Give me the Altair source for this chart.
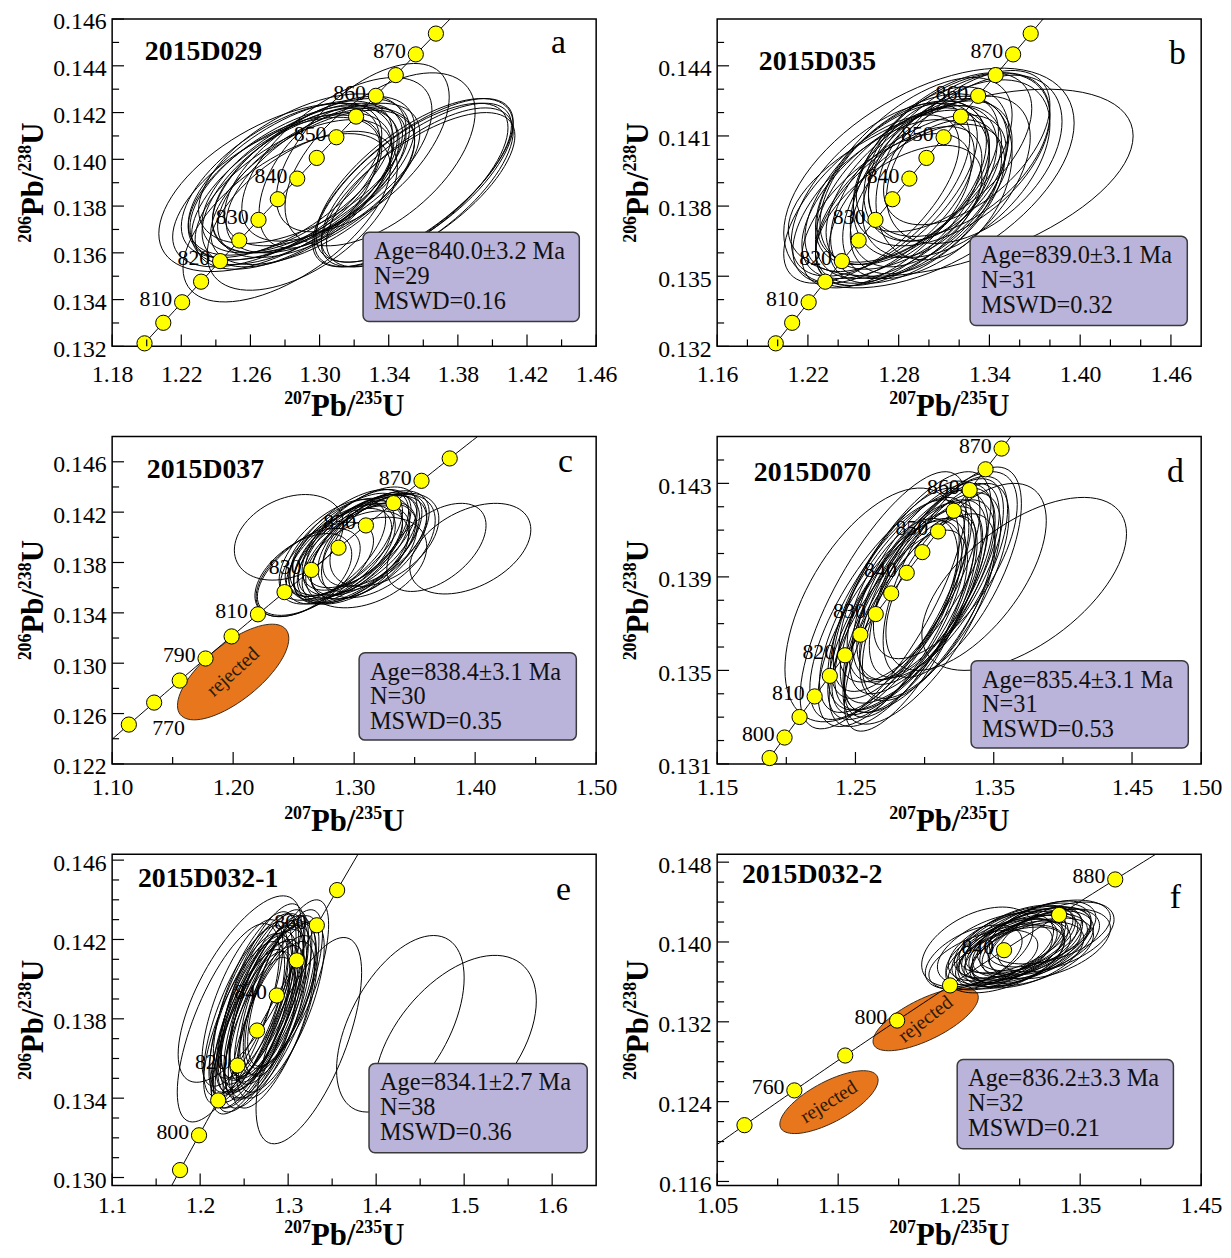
import math
import altair as alt
import pandas as pd

FONT = "Liberation Serif"
L235 = 9.8485e-4   # decay constant, 1/Ma
L238 = 1.55125e-4
XTITLE = [("207", True), ("Pb/", False), ("235", True), ("U", False)]
YTITLE = [("206", True), ("Pb/", False), ("238", True), ("U", False)]
ORANGE = "#E8761C"
BOXFILL = "#BAB3DA"

# ---------------- panel a ----------------
A_NAME = "2015D029"
A_STATS = ["Age=840.0±3.2 Ma", "N=29", "MSWD=0.16"]
A_XDOM = [1.18, 1.46]
A_YDOM = [0.132, 0.146]
A_XLAB = [1.18, 1.22, 1.26, 1.30, 1.34, 1.38, 1.42, 1.46]
A_XMIN = [1.20, 1.24, 1.28, 1.32, 1.36, 1.40, 1.44]
A_YLAB = [0.132, 0.134, 0.136, 0.138, 0.140, 0.142, 0.144, 0.146]
A_YMIN = [0.133, 0.135, 0.137, 0.139, 0.141, 0.143, 0.145]
A_DOTS = [800, 805, 810, 815, 820, 825, 830, 835, 840, 845, 850, 855, 860, 865, 870, 875]
A_LABS = [810, 820, 830, 840, 850, 860, 870]
A_CX = [1.285, 1.290, 1.280, 1.295, 1.300, 1.275, 1.288, 1.292, 1.283, 1.298, 1.287, 1.278, 1.302, 1.290, 1.285,
        1.296, 1.300, 1.275, 1.281, 1.290, 1.325, 1.335, 1.310, 1.353, 1.356, 1.358, 1.355, 1.357, 1.354]
A_CY = [0.1390, 0.1392, 0.1388, 0.1393, 0.1395, 0.1386, 0.1389, 0.1391, 0.1392, 0.1390, 0.1387, 0.1391, 0.1392,
        0.1396, 0.1385, 0.1388, 0.1392, 0.1388, 0.1375, 0.1378, 0.1405, 0.1400, 0.1400, 0.1389, 0.1390, 0.1388,
        0.1391, 0.1387, 0.1390]
A_SX = [0.060, 0.058, 0.056, 0.057, 0.055, 0.060, 0.062, 0.054, 0.059, 0.057, 0.055, 0.058, 0.056, 0.060, 0.057,
        0.059, 0.035, 0.068, 0.060, 0.055, 0.050, 0.055, 0.055, 0.056, 0.055, 0.054, 0.057, 0.056, 0.058]
A_SY = [0.0033, 0.0032, 0.0031, 0.0033, 0.0032, 0.0032, 0.0034, 0.0031, 0.0033, 0.0032, 0.0033, 0.0033, 0.0032,
        0.0032, 0.0032, 0.0033, 0.0030, 0.0036, 0.0036, 0.0034, 0.0036, 0.0037, 0.0035, 0.0035, 0.0034, 0.0034,
        0.0035, 0.0033, 0.0036]
A_RHO = [0.58, 0.60, 0.55, 0.60, 0.58, 0.60, 0.62, 0.55, 0.60, 0.58, 0.55, 0.60, 0.60, 0.55, 0.60, 0.60, 0.50,
         0.55, 0.60, 0.55, 0.60, 0.55, 0.60, 0.70, 0.72, 0.70, 0.68, 0.70, 0.72]

# ---------------- panel b ----------------
B_NAME = "2015D035"
B_STATS = ["Age=839.0±3.1 Ma", "N=31", "MSWD=0.32"]
B_XDOM = [1.16, 1.48]
B_YDOM = [0.132, 0.146]
B_XLAB = [1.16, 1.22, 1.28, 1.34, 1.40, 1.46]
B_XMIN = [1.18, 1.20, 1.24, 1.26, 1.30, 1.32, 1.36, 1.38, 1.42, 1.44]
B_YLAB = [0.132, 0.135, 0.138, 0.141, 0.144]
B_YMIN = [0.133, 0.134, 0.136, 0.137, 0.139, 0.140, 0.142, 0.143, 0.145]
B_DOTS = [800, 805, 810, 815, 820, 825, 830, 835, 840, 845, 850, 855, 860, 865, 870, 875]
B_LABS = [810, 820, 830, 840, 850, 860, 870]
B_CX = [1.300, 1.321, 1.262, 1.270, 1.278, 1.285, 1.280, 1.290, 1.275, 1.288, 1.295, 1.283, 1.272, 1.292, 1.300,
        1.268, 1.286, 1.280, 1.300, 1.295, 1.310, 1.305, 1.320, 1.315, 1.325, 1.318, 1.310, 1.330, 1.298, 1.290, 1.305]
B_CY = [0.1392, 0.1390, 0.1383, 0.1382, 0.1385, 0.1386, 0.1380, 0.1388, 0.1388, 0.1383, 0.1387, 0.1390, 0.1378,
        0.1381, 0.1390, 0.1387, 0.1392, 0.1376, 0.1395, 0.1390, 0.1392, 0.1398, 0.1402, 0.1400, 0.1405, 0.1396,
        0.1403, 0.1400, 0.1384, 0.1395, 0.1388]
B_SX = [0.096, 0.114, 0.058, 0.060, 0.062, 0.060, 0.055, 0.058, 0.057, 0.063, 0.060, 0.055, 0.056, 0.058, 0.052,
        0.059, 0.060, 0.055, 0.040, 0.045, 0.045, 0.048, 0.060, 0.065, 0.055, 0.062, 0.058, 0.058, 0.050, 0.065, 0.062]
B_SY = [0.0047, 0.0040, 0.0036, 0.0035, 0.0036, 0.0037, 0.0034, 0.0035, 0.0036, 0.0036, 0.0038, 0.0035, 0.0033,
        0.0034, 0.0036, 0.0037, 0.0036, 0.0030, 0.0030, 0.0032, 0.0035, 0.0033, 0.0035, 0.0037, 0.0033, 0.0038,
        0.0034, 0.0036, 0.0033, 0.0040, 0.0039]
B_RHO = [0.50, 0.50, 0.65, 0.60, 0.60, 0.55, 0.60, 0.55, 0.60, 0.60, 0.55, 0.50, 0.60, 0.55, 0.50, 0.60, 0.55,
         0.55, 0.30, 0.35, 0.30, 0.40, 0.50, 0.50, 0.55, 0.50, 0.55, 0.45, 0.50, 0.60, 0.55]

# ---------------- panel c ----------------
C_NAME = "2015D037"
C_STATS = ["Age=838.4±3.1 Ma", "N=30", "MSWD=0.35"]
C_XDOM = [1.10, 1.50]
C_YDOM = [0.122, 0.148]
C_XLAB = [1.10, 1.20, 1.30, 1.40, 1.50]
C_XMIN = [1.15, 1.25, 1.35, 1.45]
C_YLAB = [0.122, 0.126, 0.130, 0.134, 0.138, 0.142, 0.146]
C_YMIN = [0.124, 0.128, 0.132, 0.136, 0.140, 0.144]
C_DOTS = [760, 770, 780, 790, 800, 810, 820, 830, 840, 850, 860, 870, 880]
C_LABS = [790, 810, 830, 850, 870]
C_LABS_BELOW = [770]
C_CX = [1.246, 1.396, 1.368, 1.262, 1.268, 1.258, 1.300, 1.295, 1.305, 1.290, 1.310, 1.298, 1.302, 1.293, 1.308,
        1.315, 1.285, 1.296, 1.304, 1.312, 1.288, 1.299, 1.318, 1.306, 1.292, 1.320, 1.310, 1.325, 1.282, 1.302]
C_CY = [0.1400, 0.1391, 0.1392, 0.1372, 0.1375, 0.1370, 0.1392, 0.1390, 0.1394, 0.1388, 0.1395, 0.1386, 0.1398,
        0.1394, 0.1389, 0.1396, 0.1385, 0.1396, 0.1388, 0.1392, 0.1392, 0.1384, 0.1399, 0.1400, 0.1387, 0.1393,
        0.1380, 0.1398, 0.1390, 0.1391]
C_SX = [0.045, 0.050, 0.041, 0.043, 0.048, 0.040, 0.046, 0.045, 0.047, 0.044, 0.046, 0.048, 0.045, 0.047, 0.044,
        0.045, 0.046, 0.049, 0.047, 0.048, 0.045, 0.046, 0.044, 0.046, 0.048, 0.047, 0.050, 0.045, 0.044, 0.052]
C_SY = [0.0034, 0.0036, 0.0035, 0.0035, 0.0037, 0.0033, 0.0040, 0.0039, 0.0040, 0.0038, 0.0041, 0.0039, 0.0040,
        0.0041, 0.0038, 0.0039, 0.0038, 0.0042, 0.0040, 0.0041, 0.0039, 0.0037, 0.0038, 0.0040, 0.0040, 0.0041,
        0.0036, 0.0037, 0.0040, 0.0043]
C_RHO = [0.30, 0.42, 0.50, 0.55, 0.60, 0.50, 0.60, 0.60, 0.60, 0.55, 0.60, 0.55, 0.60, 0.65, 0.50, 0.55, 0.60,
         0.60, 0.60, 0.55, 0.60, 0.50, 0.55, 0.60, 0.60, 0.50, 0.35, 0.45, 0.60, 0.60]
C_REJ = ([1.200], [0.1293], [0.046], [0.0038], [0.70])
C_REJ_ANGLE = [318]

# ---------------- panel d ----------------
D_NAME = "2015D070"
D_STATS = ["Age=835.4±3.1 Ma", "N=31", "MSWD=0.53"]
D_XDOM = [1.15, 1.50]
D_YDOM = [0.131, 0.145]
D_XLAB = [1.15, 1.25, 1.35, 1.45, 1.50]
D_XMIN = [1.20, 1.30, 1.40]
D_YLAB = [0.131, 0.135, 0.139, 0.143]
D_YMIN = [0.132, 0.133, 0.134, 0.136, 0.137, 0.138, 0.140, 0.141, 0.142, 0.144]
D_DOTS = [795, 800, 805, 810, 815, 820, 825, 830, 835, 840, 845, 850, 855, 860, 865, 870]
D_LABS = [800, 810, 820, 830, 840, 850, 860, 870]
D_CX = [1.372, 1.330, 1.262, 1.270, 1.290, 1.320, 1.290, 1.285, 1.295, 1.280, 1.300, 1.288, 1.292, 1.278, 1.305,
        1.296, 1.283, 1.298, 1.275, 1.310, 1.287, 1.302, 1.281, 1.293, 1.308, 1.273, 1.289, 1.299, 1.315, 1.284, 1.296]
D_CY = [0.1387, 0.1390, 0.1378, 0.1380, 0.1370, 0.1392, 0.1378, 0.1375, 0.1382, 0.1372, 0.1385, 0.1380, 0.1376,
        0.1378, 0.1388, 0.1372, 0.1383, 0.1379, 0.1370, 0.1390, 0.1386, 0.1380, 0.1368, 0.1390, 0.1384, 0.1376,
        0.1373, 0.1388, 0.1395, 0.1380, 0.1384]
D_SX = [0.074, 0.058, 0.063, 0.060, 0.048, 0.050, 0.055, 0.052, 0.056, 0.050, 0.054, 0.058, 0.050, 0.054, 0.052,
        0.055, 0.051, 0.057, 0.052, 0.050, 0.053, 0.049, 0.050, 0.055, 0.053, 0.056, 0.047, 0.051, 0.052, 0.040, 0.045]
D_SY = [0.0037, 0.0040, 0.0050, 0.0055, 0.0046, 0.0045, 0.0045, 0.0044, 0.0046, 0.0043, 0.0045, 0.0047, 0.0044,
        0.0046, 0.0044, 0.0045, 0.0045, 0.0047, 0.0044, 0.0043, 0.0045, 0.0043, 0.0042, 0.0045, 0.0046, 0.0047,
        0.0043, 0.0042, 0.0040, 0.0035, 0.0038]
D_RHO = [0.58, 0.60, 0.55, 0.75, 0.75, 0.65, 0.70, 0.72, 0.70, 0.70, 0.72, 0.68, 0.70, 0.72, 0.70, 0.70, 0.70,
         0.70, 0.70, 0.68, 0.72, 0.65, 0.70, 0.70, 0.70, 0.72, 0.72, 0.65, 0.65, 0.55, 0.60]

# ---------------- panel e ----------------
E_NAME = "2015D032-1"
E_STATS = ["Age=834.1±2.7 Ma", "N=38", "MSWD=0.36"]
E_XDOM = [1.10, 1.65]
E_YDOM = [0.1296, 0.1463]
E_XLAB = [1.1, 1.2, 1.3, 1.4, 1.5, 1.6]
E_XMIN = [1.15, 1.25, 1.35, 1.45, 1.55]
E_YLAB = [0.130, 0.134, 0.138, 0.142, 0.146]
E_YMIN = [0.131, 0.132, 0.133, 0.135, 0.136, 0.137, 0.139, 0.140, 0.141, 0.143, 0.144, 0.145]
E_DOTS = [790, 800, 810, 820, 830, 840, 850, 860, 870]
E_LABS = [800, 820, 840, 860]
E_CX = [1.245, 1.3235, 1.4275, 1.490, 1.232, 1.270, 1.265, 1.275, 1.260, 1.280, 1.268, 1.272, 1.258, 1.285, 1.263,
        1.277, 1.255, 1.290, 1.266, 1.273, 1.282, 1.262, 1.250, 1.278, 1.269, 1.287, 1.257, 1.295, 1.264, 1.276,
        1.252, 1.283, 1.271, 1.260, 1.292, 1.248, 1.279, 1.300]
E_CY = [0.1395, 0.1369, 0.13775, 0.1367, 0.1378, 0.1385, 0.1383, 0.1387, 0.1380, 0.1390, 0.1388, 0.1380, 0.1386,
        0.1388, 0.1377, 0.1383, 0.1382, 0.1392, 0.1390, 0.1376, 0.1384, 0.1392, 0.1378, 0.1393, 0.1379, 0.1381,
        0.1375, 0.1395, 0.1386, 0.1389, 0.1384, 0.1377, 0.1394, 0.1373, 0.1386, 0.1388, 0.1381, 0.1398]
E_SX = [0.070, 0.060, 0.0725, 0.092, 0.058, 0.047, 0.045, 0.048, 0.046, 0.047, 0.050, 0.044, 0.047, 0.046, 0.048,
        0.049, 0.045, 0.045, 0.046, 0.047, 0.050, 0.047, 0.046, 0.045, 0.052, 0.046, 0.045, 0.044, 0.040, 0.042,
        0.048, 0.047, 0.048, 0.047, 0.049, 0.046, 0.030, 0.046]
E_SY = [0.0047, 0.0052, 0.00445, 0.0045, 0.0050, 0.0042, 0.0041, 0.0043, 0.0042, 0.0042, 0.0045, 0.0040, 0.0043,
        0.0041, 0.0042, 0.0044, 0.0041, 0.0040, 0.0043, 0.0041, 0.0044, 0.0042, 0.0041, 0.0042, 0.0046, 0.0041,
        0.0040, 0.0040, 0.0037, 0.0039, 0.0043, 0.0042, 0.0044, 0.0041, 0.0043, 0.0042, 0.0030, 0.0042]
E_RHO = [0.70, 0.66, 0.52, 0.49, 0.70, 0.70, 0.70, 0.72, 0.70, 0.70, 0.72, 0.68, 0.70, 0.70, 0.72, 0.70, 0.70,
         0.68, 0.72, 0.70, 0.70, 0.70, 0.72, 0.70, 0.72, 0.68, 0.70, 0.70, 0.65, 0.68, 0.72, 0.70, 0.70, 0.72,
         0.70, 0.70, 0.50, 0.70]

# ---------------- panel f ----------------
F_NAME = "2015D032-2"
F_STATS = ["Age=836.2±3.3 Ma", "N=32", "MSWD=0.21"]
F_XDOM = [1.05, 1.45]
F_YDOM = [0.1156, 0.1488]
F_XLAB = [1.05, 1.15, 1.25, 1.35, 1.45]
F_XMIN = [1.10, 1.20, 1.30, 1.40]
F_YLAB = [0.116, 0.124, 0.132, 0.140, 0.148]
F_YMIN = [0.118, 0.120, 0.122, 0.126, 0.128, 0.130, 0.134, 0.136, 0.138, 0.142, 0.144, 0.146]
F_DOTS = [740, 760, 780, 800, 820, 840, 860, 880]
F_LABS = [760, 800, 840, 880]
F_CX = [1.265, 1.270, 1.262, 1.330, 1.325, 1.300, 1.295, 1.305, 1.290, 1.310, 1.298, 1.303, 1.288, 1.315, 1.292,
        1.308, 1.296, 1.285, 1.312, 1.300, 1.320, 1.283, 1.306, 1.293, 1.318, 1.302, 1.280, 1.311, 1.297, 1.325,
        1.289, 1.307]
F_CY = [0.1395, 0.1382, 0.1385, 0.1405, 0.1410, 0.1396, 0.1393, 0.1398, 0.1390, 0.1400, 0.1388, 0.1402, 0.1396,
        0.1397, 0.1385, 0.1393, 0.1400, 0.1390, 0.1405, 0.1391, 0.1400, 0.1385, 0.1387, 0.1398, 0.1408, 0.1395,
        0.1393, 0.1390, 0.1403, 0.1398, 0.1382, 0.1397]
F_SX = [0.046, 0.045, 0.040, 0.048, 0.050, 0.048, 0.045, 0.047, 0.046, 0.049, 0.044, 0.048, 0.047, 0.046, 0.045,
        0.048, 0.050, 0.046, 0.047, 0.051, 0.046, 0.044, 0.047, 0.045, 0.045, 0.035, 0.048, 0.050, 0.047, 0.050,
        0.048, 0.052]
F_SY = [0.0040, 0.0030, 0.0032, 0.0035, 0.0032, 0.0035, 0.0034, 0.0036, 0.0033, 0.0035, 0.0033, 0.0034, 0.0035,
        0.0034, 0.0032, 0.0035, 0.0036, 0.0034, 0.0034, 0.0036, 0.0033, 0.0033, 0.0033, 0.0035, 0.0033, 0.0028,
        0.0036, 0.0034, 0.0034, 0.0035, 0.0033, 0.0038]
F_RHO = [0.45, 0.50, 0.50, 0.50, 0.45, 0.55, 0.55, 0.55, 0.50, 0.55, 0.50, 0.55, 0.55, 0.50, 0.50, 0.55, 0.55,
         0.55, 0.50, 0.55, 0.50, 0.55, 0.50, 0.55, 0.50, 0.45, 0.50, 0.50, 0.55, 0.45, 0.55, 0.55]
F_REJ = ([1.2223, 1.1424], [0.13225, 0.12395], [0.0435, 0.0406], [0.00315, 0.00315], [0.70, 0.70])
F_REJ_ANGLE = [322, 328]

W = 488
MAIN_FS, SUP_FS, SUP_RAISE = 31, 18, 12
# advance widths (em) of Liberation Serif Bold glyphs used in the axis titles
ADV = {"P": 0.611, "b": 0.556, "/": 0.278, "U": 0.722}


def conc_xy(t):
    return math.exp(L235 * t) - 1, math.exp(L238 * t) - 1


def ellipse_outline(cx, cy, sx, sy, rho, n=80):
    rows = []
    for k in range(len(cx)):
        s = math.sqrt(1 - rho[k] ** 2)
        for i in range(n + 1):
            t = 2 * math.pi * i / n
            rows.append({"id": k, "i": i, "x": cx[k] + sx[k] * math.cos(t),
                         "y": cy[k] + sy[k] * (rho[k] * math.cos(t) + s * math.sin(t))})
    return pd.DataFrame(rows)


def ellipse_band(cx, cy, sx, sy, rho, n=60):
    rows = []
    for k in range(len(cx)):
        s = math.sqrt(1 - rho[k] ** 2)
        for i in range(n + 1):
            u = -math.cos(math.pi * i / n)
            w = math.sqrt(max(0.0, 1 - u * u))
            rows.append({"id": k, "x": cx[k] + sx[k] * u,
                         "y": cy[k] + sy[k] * (rho[k] * u - s * w),
                         "y2": cy[k] + sy[k] * (rho[k] * u + s * w)})
    return pd.DataFrame(rows)


def piece_width(txt, sup):
    if sup:
        return 0.5 * SUP_FS * len(txt)
    return sum(ADV.get(c, 0.5) for c in txt) * MAIN_FS


def title_layers(pieces, vertical, center, base):
    total = sum(piece_width(t, s) for t, s in pieces)
    out = []
    off = 0.0
    for txt, sup in pieces:
        fs = SUP_FS if sup else MAIN_FS
        raise_ = SUP_RAISE if sup else 0
        if vertical:
            enc = dict(x=alt.value(base - raise_), y=alt.value(center + total / 2 - off))
            mk = dict(angle=270)
        else:
            enc = dict(x=alt.value(center - total / 2 + off), y=alt.value(base - raise_))
            mk = {}
        out.append(alt.Chart(pd.DataFrame({"t": [txt]})).mark_text(
            align="left", baseline="alphabetic", font=FONT, fontWeight="bold", fontSize=fs, color="black",
            **mk).encode(text="t:N", **enc))
        off += piece_width(txt, sup)
    return out


def make_panel(p):
    H = p["H"]
    xs = alt.Scale(domain=p["xdom"], nice=False, zero=False)
    ys = alt.Scale(domain=p["ydom"], nice=False, zero=False)
    xax = alt.Axis(values=p["xlab"], format=p["xfmt"], title=None, ticks=False, domain=False, grid=False,
                   labelFlush=False, labelPadding=p["xlp"])
    yax = alt.Axis(values=p["ylab"], format=".3f", title=None, ticks=False, domain=False, grid=False,
                   labelFlush=False, labelPadding=6, labelOffset=3)

    def X():
        return alt.X("x:Q", scale=xs, axis=xax)

    def Y():
        return alt.Y("y:Q", scale=ys, axis=yax)

    layers = []
    # rejected (filled orange) ellipses
    if p.get("rej"):
        band = ellipse_band(*p["rej"])
        layers.append(alt.Chart(band).mark_area(color=ORANGE, opacity=1, clip=True).encode(
            x=X(), y=Y(), y2="y2:Q", detail="id:N"))
        outl = ellipse_outline(*p["rej"])
        layers.append(alt.Chart(outl).mark_line(color="#3b2a18", strokeWidth=1, clip=True).encode(
            x=X(), y=Y(), detail="id:N", order="i:Q"))
    # concordia curve
    ages = list(range(700, 962, 2))
    cdf = pd.DataFrame({"x": [conc_xy(t)[0] for t in ages], "y": [conc_xy(t)[1] for t in ages]})
    layers.append(alt.Chart(cdf).mark_line(color="black", strokeWidth=1, clip=True).encode(
        x=X(), y=Y(), order="x:Q"))
    # age labels
    ldf = pd.DataFrame({"x": [conc_xy(t)[0] for t in p["labs"]], "y": [conc_xy(t)[1] for t in p["labs"]],
                        "t": [str(t) for t in p["labs"]]})
    layers.append(alt.Chart(ldf).mark_text(align="right", baseline="middle", dx=-10, dy=-3, font=FONT,
                                           fontSize=22, color="black").encode(x=X(), y=Y(), text="t:N"))
    if p.get("labs_below"):
        bdf = pd.DataFrame({"x": [conc_xy(t)[0] for t in p["labs_below"]],
                            "y": [conc_xy(t)[1] for t in p["labs_below"]],
                            "t": [str(t) for t in p["labs_below"]]})
        layers.append(alt.Chart(bdf).mark_text(align="left", baseline="middle", dx=-2, dy=26, font=FONT,
                                               fontSize=22, color="black").encode(x=X(), y=Y(), text="t:N"))
    # data ellipses
    edf = ellipse_outline(*p["ell"])
    layers.append(alt.Chart(edf).mark_line(color="black", strokeWidth=1, clip=True).encode(
        x=X(), y=Y(), detail="id:N", order="i:Q"))
    # concordia age dots
    ddf = pd.DataFrame({"x": [conc_xy(t)[0] for t in p["dots"]], "y": [conc_xy(t)[1] for t in p["dots"]]})
    layers.append(alt.Chart(ddf).mark_circle(size=235, color="#FFFF00", opacity=1, stroke="black",
                                             strokeWidth=1).encode(x=X(), y=Y()))
    # "rejected" labels
    if p.get("rej"):
        cx, cy = p["rej"][0], p["rej"][1]
        for k in range(len(cx)):
            rdf = pd.DataFrame({"x": [cx[k]], "y": [cy[k]], "t": ["rejected"]})
            layers.append(alt.Chart(rdf).mark_text(align="center", baseline="middle", font=FONT, fontSize=20,
                                                   angle=p["rej_angle"][k], color="#2a1a08").encode(
                x=X(), y=Y(), text="t:N"))
    # ticks (inward)
    layers.append(alt.Chart(pd.DataFrame({"x": p["xlab"]})).mark_rule(color="black", strokeWidth=1.2).encode(
        x=X(), y=alt.value(H), y2=alt.value(H - 12)))
    layers.append(alt.Chart(pd.DataFrame({"x": p["xmin"]})).mark_rule(color="black", strokeWidth=1.2).encode(
        x=X(), y=alt.value(H), y2=alt.value(H - 7)))
    layers.append(alt.Chart(pd.DataFrame({"y": p["ylab"]})).mark_rule(color="black", strokeWidth=1.2).encode(
        y=Y(), x=alt.value(0), x2=alt.value(12)))
    layers.append(alt.Chart(pd.DataFrame({"y": p["ymin"]})).mark_rule(color="black", strokeWidth=1.2).encode(
        y=Y(), x=alt.value(0), x2=alt.value(7)))
    # statistics box
    bl, bt, br, bb = p["box"]
    layers.append(alt.Chart(pd.DataFrame({"k": [0]})).mark_rect(
        fill=BOXFILL, stroke="#3a3a3a", strokeWidth=1.5, cornerRadius=6).encode(
        x=alt.value(bl), x2=alt.value(br), y=alt.value(bt), y2=alt.value(bb)))
    for j, line in enumerate(p["stats"]):
        layers.append(alt.Chart(pd.DataFrame({"t": [line]})).mark_text(
            align="left", baseline="middle", font=FONT, fontSize=24.5, color="#111").encode(
            x=alt.value(bl + 11), y=alt.value(bt + 20 + 25 * j), text="t:N"))
    # sample name & panel letter
    nx, ny = p["name_xy"]
    layers.append(alt.Chart(pd.DataFrame({"t": [p["name"]]})).mark_text(
        align="left", baseline="middle", font=FONT, fontSize=28, fontWeight="bold", color="black").encode(
        x=alt.value(nx), y=alt.value(ny), text="t:N"))
    lx, ly = p["letter_xy"]
    layers.append(alt.Chart(pd.DataFrame({"t": [p["letter"]]})).mark_text(
        align="center", baseline="middle", font=FONT, fontSize=34, color="black").encode(
        x=alt.value(lx), y=alt.value(ly), text="t:N"))
    # axis titles with superscripts
    layers += title_layers(XTITLE, False, W / 2 - 10, H + p["xtb"])
    layers += title_layers(YTITLE, True, H / 2, -70)
    return alt.layer(*layers).properties(width=W, height=H)


PANELS = [
    dict(letter="a", name=A_NAME, stats=A_STATS, xdom=A_XDOM, ydom=A_YDOM, xlab=A_XLAB, xmin=A_XMIN,
         ylab=A_YLAB, ymin=A_YMIN, xfmt=".2f", dots=A_DOTS, labs=A_LABS,
         ell=(A_CX, A_CY, A_SX, A_SY, A_RHO), H=330, xlp=16, xtb=70,
         name_xy=(33, 33), letter_xy=(450, 24), box=(253, 215, 471, 305)),
    dict(letter="b", name=B_NAME, stats=B_STATS, xdom=B_XDOM, ydom=B_YDOM, xlab=B_XLAB, xmin=B_XMIN,
         ylab=B_YLAB, ymin=B_YMIN, xfmt=".2f", dots=B_DOTS, labs=B_LABS,
         ell=(B_CX, B_CY, B_SX, B_SY, B_RHO), H=330, xlp=16, xtb=70,
         name_xy=(42, 43), letter_xy=(464, 35), box=(255, 219, 474, 309)),
    dict(letter="c", name=C_NAME, stats=C_STATS, xdom=C_XDOM, ydom=C_YDOM, xlab=C_XLAB, xmin=C_XMIN,
         ylab=C_YLAB, ymin=C_YMIN, xfmt=".2f", dots=C_DOTS, labs=C_LABS, labs_below=C_LABS_BELOW,
         ell=(C_CX, C_CY, C_SX, C_SY, C_RHO), rej=C_REJ, rej_angle=C_REJ_ANGLE, H=330, xlp=12, xtb=68,
         name_xy=(35, 34), letter_xy=(457, 26), box=(249, 218, 468, 306)),
    dict(letter="d", name=D_NAME, stats=D_STATS, xdom=D_XDOM, ydom=D_YDOM, xlab=D_XLAB, xmin=D_XMIN,
         ylab=D_YLAB, ymin=D_YMIN, xfmt=".2f", dots=D_DOTS, labs=D_LABS,
         ell=(D_CX, D_CY, D_SX, D_SY, D_RHO), H=330, xlp=12, xtb=68,
         name_xy=(37, 37), letter_xy=(462, 36), box=(256, 226, 475, 314)),
    dict(letter="e", name=E_NAME, stats=E_STATS, xdom=E_XDOM, ydom=E_YDOM, xlab=E_XLAB, xmin=E_XMIN,
         ylab=E_YLAB, ymin=E_YMIN, xfmt=".1f", dots=E_DOTS, labs=E_LABS,
         ell=(E_CX, E_CY, E_SX, E_SY, E_RHO), H=334, xlp=8, xtb=60,
         name_xy=(26, 25), letter_xy=(455, 36), box=(259, 211, 479, 301)),
    dict(letter="f", name=F_NAME, stats=F_STATS, xdom=F_XDOM, ydom=F_YDOM, xlab=F_XLAB, xmin=F_XMIN,
         ylab=F_YLAB, ymin=F_YMIN, xfmt=".2f", dots=F_DOTS, labs=F_LABS,
         ell=(F_CX, F_CY, F_SX, F_SY, F_RHO), rej=F_REJ, rej_angle=F_REJ_ANGLE, H=334, xlp=8, xtb=60,
         name_xy=(25, 21), letter_xy=(462, 44), box=(242, 207, 460, 297)),
]

chart = alt.concat(*[make_panel(p) for p in PANELS], columns=2, bounds="flush",
                   spacing={"row": 91, "column": 122}).properties(
    padding={"left": 8, "top": -4, "right": 0, "bottom": 0}).configure_view(
    stroke="black", strokeWidth=1.5).configure_axis(
    labelFont=FONT, labelFontSize=24, labelColor="black")

chart.save("out.html", embed_options={"renderer": "svg", "actions": False})
